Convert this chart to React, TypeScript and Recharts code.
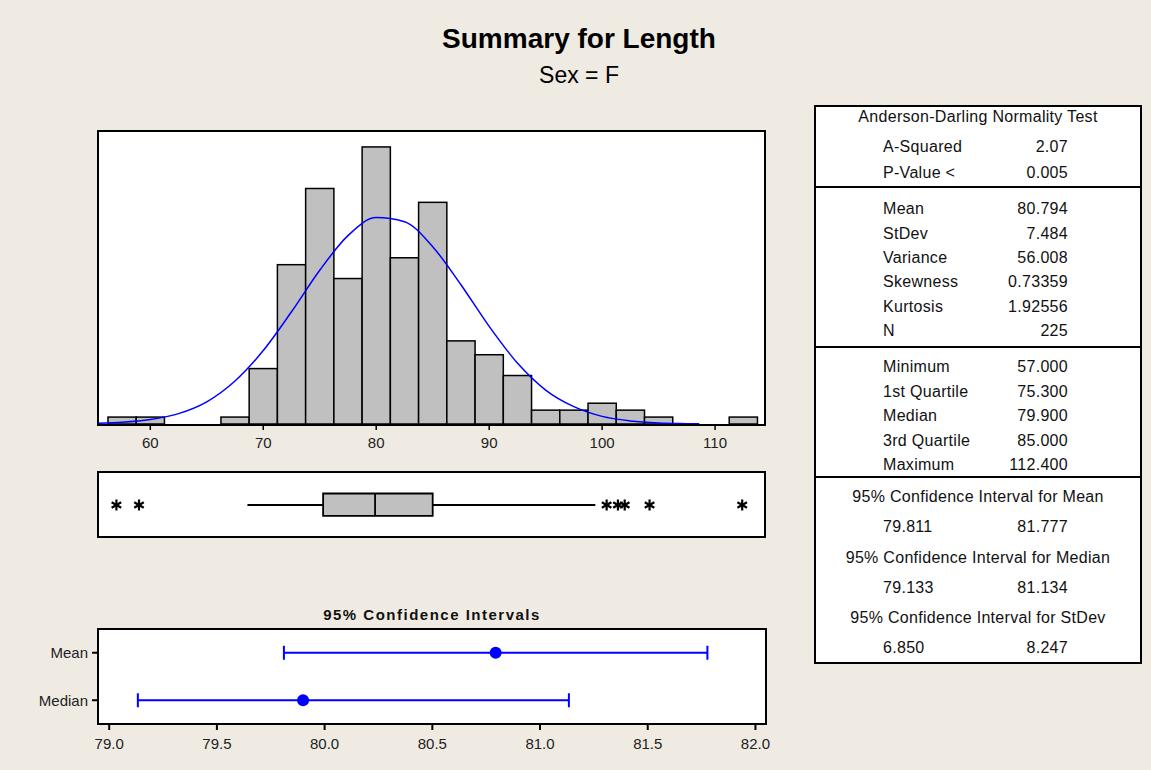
import React from "react";
import {
  ComposedChart,
  Bar,
  Line,
  Scatter,
  XAxis,
  YAxis,
  ReferenceArea,
  ReferenceLine,
  ErrorBar,
} from "recharts";

// histogram bins (centre of each 2.5 wide bin) and counts
const binCenters = [
  57.5, 60, 62.5, 65, 67.5, 70, 72.5, 75, 77.5, 80, 82.5, 85, 87.5, 90, 92.5,
  95, 97.5, 100, 102.5, 105, 107.5, 110, 112.5,
];
const binCounts = [
  1, 1, 0, 0, 1, 8, 23, 34, 21, 40, 24, 32, 12, 10, 7, 2, 2, 3, 2, 1, 0, 0, 1,
];
const histTicks = [60, 70, 80, 90, 100, 110];

// fitted normal curve, read at points along the x axis
const fitX = [
  55.4, 57.5, 60, 62.5, 65, 67.5, 70, 72.5, 75, 77.5, 80, 82.5, 85, 87.5, 90,
  92.5, 95, 97.5, 100, 102.5, 105, 107.5, 108.6,
];
const fitY = [
  0.1, 0.25, 0.65, 1.5, 3.2, 6.2, 10.6, 16.2, 22.2, 27.2, 29.8, 29.2, 25.6,
  20.1, 14.1, 8.8, 4.9, 2.5, 1.1, 0.45, 0.15, 0.05, 0.02,
];

// box plot
const q1 = 75.3;
const median = 79.9;
const q3 = 85.0;
const whiskerLow = 68.6;
const whiskerHigh = 99.4;
const outliers = [57.0, 59.0, 100.4, 101.4, 102.0, 104.2, 112.4];

// 95% confidence intervals
const ciNames = ["Median", "Mean"];
const ciEstimates = [79.9, 80.794];
const ciLower = [79.133, 79.811];
const ciUpper = [81.134, 81.777];
const ciTicks = [79.0, 79.5, 80.0, 80.5, 81.0, 81.5, 82.0];

// summary table
const adTitle = "Anderson-Darling Normality Test";
const adRows = [
  ["A-Squared", "2.07"],
  ["P-Value <", "0.005"],
];
const momentRows = [
  ["Mean", "80.794"],
  ["StDev", "7.484"],
  ["Variance", "56.008"],
  ["Skewness", "0.73359"],
  ["Kurtosis", "1.92556"],
  ["N", "225"],
];
const quantileRows = [
  ["Minimum", "57.000"],
  ["1st Quartile", "75.300"],
  ["Median", "79.900"],
  ["3rd Quartile", "85.000"],
  ["Maximum", "112.400"],
];
const ciTitles = [
  "95% Confidence Interval for Mean",
  "95% Confidence Interval for Median",
  "95% Confidence Interval for StDev",
];
const ciTableValues = [
  ["79.811", "81.777"],
  ["79.133", "81.134"],
  ["6.850", "8.247"],
];

const FONT = "'Liberation Sans', Arial, Helvetica, sans-serif";
const BG = "#efebe2";
const X_MIN = 55.37;
const X_MAX = 114.42;
const PLOT_W = 667;
const BAR_W = (PLOT_W * 2.5) / (X_MAX - X_MIN);

const histData = binCenters
  .map((x, i) => ({ x, count: binCounts[i] }))
  .filter((d) => d.count > 0);
const fitData = fitX.map((x, i) => ({ x, y: fitY[i] }));
const outlierData = outliers.map((x) => ({ x, y: 0.5 }));
const ciData = ciNames.map((name, i) => ({
  name,
  x: ciEstimates[i],
  y: 0.25 + i * 0.5,
  err: [ciEstimates[i] - ciLower[i], ciUpper[i] - ciEstimates[i]],
}));

const tickStyle = { fill: "#222", fontSize: 15, fontFamily: FONT };

// bars keep the centre and height from the library, but span the whole bin
const BinRect = (props: any) => {
  const { x, y, width, height } = props;
  if (!height) return null;
  const cx = x + width / 2;
  return (
    <rect
      x={cx - BAR_W / 2}
      y={y}
      width={BAR_W}
      height={height}
      fill="#c0c0c0"
      stroke="#000"
      strokeWidth={1.5}
    />
  );
};

const Asterisk = (props: any) => {
  const { cx, cy } = props;
  const r = 5.5;
  return (
    <g stroke="#000" strokeWidth={2.2}>
      <line x1={cx} y1={cy - r} x2={cx} y2={cy + r} />
      <line x1={cx - r * 0.87} y1={cy - r * 0.5} x2={cx + r * 0.87} y2={cy + r * 0.5} />
      <line x1={cx - r * 0.87} y1={cy + r * 0.5} x2={cx + r * 0.87} y2={cy - r * 0.5} />
    </g>
  );
};

const Dot = (props: any) => (
  <circle cx={props.cx} cy={props.cy} r={6} fill="#0000ff" />
);

const frame = (left: number, top: number, width: number, height: number) => (
  <div
    style={{
      position: "absolute",
      left,
      top,
      width,
      height,
      border: "2px solid #000",
      boxSizing: "border-box",
      background: "#fff",
    }}
  />
);

const Row = ({ y, label, value }: { y: number; label: string; value: string }) => (
  <>
    <div style={{ position: "absolute", left: 67, top: y - 10, lineHeight: "20px" }}>
      {label}
    </div>
    <div
      style={{
        position: "absolute",
        left: 0,
        width: 252,
        top: y - 10,
        lineHeight: "20px",
        textAlign: "right",
      }}
    >
      {value}
    </div>
  </>
);

const Centered = ({ y, text }: { y: number; text: string }) => (
  <div
    style={{
      position: "absolute",
      left: 0,
      right: 0,
      top: y - 10,
      lineHeight: "20px",
      textAlign: "center",
      whiteSpace: "nowrap",
    }}
  >
    {text}
  </div>
);

const Sep = ({ y }: { y: number }) => (
  <div style={{ position: "absolute", left: 0, right: 0, top: y - 1, height: 2, background: "#000" }} />
);

const StatsTable = () => {
  // y positions are inside the table box (table top border at 105)
  const oy = 107;
  return (
    <div
      style={{
        position: "absolute",
        left: 814,
        top: 105,
        width: 328,
        height: 559,
        border: "2px solid #000",
        boxSizing: "border-box",
        background: "#fff",
        fontSize: 16,
        letterSpacing: 0.3,
        color: "#111",
      }}
    >
      <Centered y={117 - oy} text={adTitle} />
      {adRows.map((r, i) => (
        <Row key={r[0]} y={146.7 + i * 26 - oy} label={r[0]} value={r[1]} />
      ))}
      <Sep y={187.3 - oy} />
      {momentRows.map((r, i) => (
        <Row key={r[0]} y={209.3 + i * 24.3 - oy} label={r[0]} value={r[1]} />
      ))}
      <Sep y={347.3 - oy} />
      {quantileRows.map((r, i) => (
        <Row key={r[0]} y={367 + i * 24.5 - oy} label={r[0]} value={r[1]} />
      ))}
      <Sep y={476.7 - oy} />
      {ciTitles.map((t, i) => (
        <React.Fragment key={t}>
          <Centered y={497.3 + i * 60.5 - oy} text={t} />
          <Row
            y={526.9 + i * 60.7 - oy}
            label={ciTableValues[i][0]}
            value={ciTableValues[i][1]}
          />
        </React.Fragment>
      ))}
    </div>
  );
};

export default function App() {
  return (
    <div
      style={{
        position: "absolute",
        left: 0,
        top: 0,
        width: 1151,
        height: 770,
        background: BG,
        fontFamily: FONT,
        overflow: "hidden",
      }}
    >
      <div
        style={{
          position: "absolute",
          left: 379,
          width: 400,
          top: 22,
          lineHeight: "34px",
          fontSize: 28,
          fontWeight: "bold",
          textAlign: "center",
          color: "#000",
        }}
      >
        Summary for Length
      </div>
      <div
        style={{
          position: "absolute",
          left: 479,
          width: 200,
          top: 62,
          lineHeight: "26px",
          fontSize: 23,
          textAlign: "center",
          color: "#000",
        }}
      >
        Sex = F
      </div>

      {/* histogram */}
      {frame(97, 130, 669, 296)}
      <div style={{ position: "absolute", left: 93, top: 126 }}>
        <ComposedChart
          width={PLOT_W + 10}
          height={5 + 293 + 35}
          data={histData}
          margin={{ top: 5, right: 5, left: 5, bottom: 0 }}
        >
          <XAxis
            type="number"
            dataKey="x"
            domain={[X_MIN, X_MAX]}
            ticks={histTicks}
            interval={0}
            allowDataOverflow
            axisLine={false}
            tickSize={6}
            tickMargin={7}
            tickLine={{ stroke: "#000", strokeWidth: 1.5 }}
            tick={tickStyle}
            height={35}
          />
          <YAxis hide domain={[0, 42.3]} allowDataOverflow />
          <Bar
            dataKey="count"
            shape={BinRect}
            isAnimationActive={false}
          />
          <Line
            data={fitData}
            dataKey="y"
            type="monotone"
            stroke="#0000ff"
            strokeWidth={1.5}
            dot={false}
            isAnimationActive={false}
          />
        </ComposedChart>
      </div>

      {/* box plot */}
      {frame(97, 471, 669, 67)}
      <div style={{ position: "absolute", left: 93, top: 467.5 }}>
        <ComposedChart
          width={PLOT_W + 10}
          height={74}
          margin={{ top: 5, right: 5, left: 5, bottom: 5 }}
        >
          <XAxis type="number" dataKey="x" domain={[X_MIN, X_MAX]} allowDataOverflow hide />
          <YAxis type="number" dataKey="y" domain={[0, 1]} allowDataOverflow hide />
          <ReferenceLine
            segment={[{ x: whiskerLow, y: 0.5 }, { x: q1, y: 0.5 }]}
            stroke="#000"
            strokeWidth={1.8}
          />
          <ReferenceLine
            segment={[{ x: q3, y: 0.5 }, { x: whiskerHigh, y: 0.5 }]}
            stroke="#000"
            strokeWidth={1.8}
          />
          <ReferenceArea
            x1={q1}
            x2={q3}
            y1={0.33}
            y2={0.68}
            fill="#c0c0c0"
            fillOpacity={1}
            stroke="#000"
            strokeWidth={1.8}
          />
          <ReferenceLine
            segment={[{ x: median, y: 0.33 }, { x: median, y: 0.68 }]}
            stroke="#000"
            strokeWidth={1.8}
          />
          <Scatter data={outlierData} shape={Asterisk} isAnimationActive={false} />
        </ComposedChart>
      </div>

      {/* confidence intervals */}
      <div
        style={{
          position: "absolute",
          left: 98,
          width: 668,
          top: 605,
          lineHeight: "20px",
          fontSize: 15,
          fontWeight: "bold",
          letterSpacing: 1.5,
          textAlign: "center",
          color: "#111",
        }}
      >
        95% Confidence Intervals
      </div>
      {frame(97, 628, 670, 97)}
      <div style={{ position: "absolute", left: 0, top: 624 }}>
        <ComposedChart
          width={771}
          height={130}
          margin={{ top: 5, right: 5, left: 0, bottom: 0 }}
        >
          <XAxis
            type="number"
            dataKey="x"
            domain={[78.948, 82.049]}
            ticks={ciTicks}
            interval={0}
            allowDataOverflow
            axisLine={false}
            tickSize={6}
            tickMargin={8}
            tickLine={{ stroke: "#000", strokeWidth: 2 }}
            tick={tickStyle}
            tickFormatter={(v: number) => v.toFixed(1)}
            height={30}
          />
          <YAxis
            type="number"
            dataKey="y"
            domain={[0, 1]}
            ticks={ciData.map((d) => d.y)}
            interval={0}
            axisLine={false}
            tickSize={6}
            tickMargin={4}
            tickLine={{ stroke: "#000", strokeWidth: 2 }}
            tick={tickStyle}
            tickFormatter={(v: number) => {
              const d = ciData.find((c) => Math.abs(c.y - v) < 1e-6);
              return d ? d.name : "";
            }}
            width={98}
          />
          <Scatter data={ciData} shape={Dot} isAnimationActive={false}>
            <ErrorBar
              dataKey="err"
              direction="x"
              width={7}
              stroke="#0000ff"
              strokeWidth={2}
            />
          </Scatter>
        </ComposedChart>
      </div>

      <StatsTable />
    </div>
  );
}
